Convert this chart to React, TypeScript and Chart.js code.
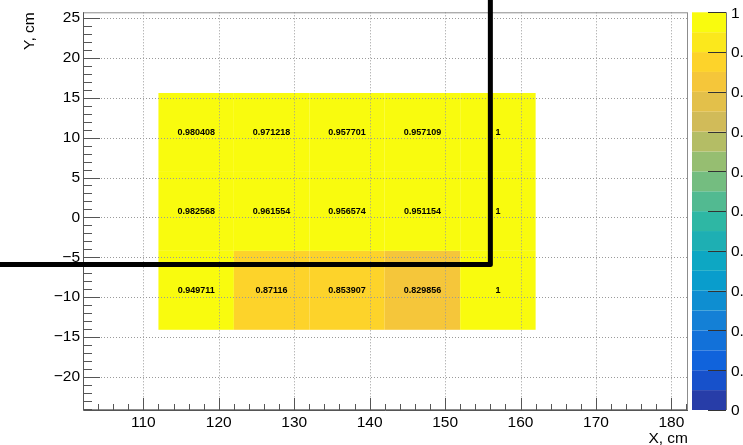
import React, { useEffect, useRef } from "react";
import { Chart, registerables } from "chart.js";

Chart.register(...registerables);

// ---- data ----
const xEdges = [112, 122, 132, 142, 152, 162];
const yEdges = [-14.1, -4.2, 5.7, 15.6];
// rows from bottom to top
const rowBottom = [0.949711, 0.87116, 0.853907, 0.829856, 1];
const rowMiddle = [0.982568, 0.961554, 0.956574, 0.951154, 1];
const rowTop = [0.980408, 0.971218, 0.957701, 0.957109, 1];
const cellValues = [rowBottom, rowMiddle, rowTop];

const xTicks = [110, 120, 130, 140, 150, 160, 170, 180];
const yTicks = [-20, -15, -10, -5, 0, 5, 10, 15, 20, 25];
const zTicks = [0, 0.1, 0.2, 0.3, 0.4, 0.5, 0.6, 0.7, 0.8, 0.9, 1];
const zTickLabels = ["0", "0.1", "0.2", "0.3", "0.4", "0.5", "0.6", "0.7", "0.8", "0.9", "1"];
const zLevels = 20;
const zMin = 0;
const zMax = 1;

// overlay cut lines (data coordinates)
const cutX = 156.0;
const cutY = -5.9;

const xTitle = "X, cm";
const yTitle = "Y, cm";

// ---- kBird palette ----
const stops = [0, 0.125, 0.25, 0.375, 0.5, 0.625, 0.75, 0.875, 1];
const red = [0.2082, 0.0592, 0.078, 0.0232, 0.1802, 0.5301, 0.8186, 0.9956, 0.9764];
const green = [0.1664, 0.3599, 0.5041, 0.6419, 0.7178, 0.7492, 0.7328, 0.7862, 0.9832];
const blue = [0.5293, 0.8684, 0.8385, 0.7914, 0.6425, 0.4662, 0.3499, 0.1968, 0.0539];

function paletteAt(t: number): string {
  let i = 0;
  while (i < stops.length - 2 && t > stops[i + 1]) i++;
  const f = (t - stops[i]) / (stops[i + 1] - stops[i]);
  const r = Math.round(255 * (red[i] + (red[i + 1] - red[i]) * f));
  const g = Math.round(255 * (green[i] + (green[i + 1] - green[i]) * f));
  const b = Math.round(255 * (blue[i] + (blue[i + 1] - blue[i]) * f));
  return `rgb(${r},${g},${b})`;
}

function levelColor(level: number): string {
  const idx = Math.floor((level + 0.99) * 255 / zLevels);
  return paletteAt(Math.min(idx, 254) / 254);
}

function valueColor(z: number): string {
  let level = Math.floor(0.01 + (z - zMin) * zLevels / (zMax - zMin));
  if (level >= zLevels) level = zLevels - 1;
  if (level < 0) level = 0;
  return levelColor(level);
}

const FONT = "'Liberation Sans', Arial, Helvetica, sans-serif";

function fmt(v: number): string {
  return v < 0 ? "\u2212" + String(-v) : String(v);
}

const heatPlugin = {
  id: "heat",
  afterDraw(chart: any) {
    const ctx = chart.ctx as CanvasRenderingContext2D;
    const xs = chart.scales.x;
    const ys = chart.scales.y;
    const ca = chart.chartArea;
    ctx.save();

    // cells
    for (let r = 0; r < cellValues.length; r++) {
      for (let c = 0; c < cellValues[r].length; c++) {
        const x0 = xs.getPixelForValue(xEdges[c]);
        const x1 = xs.getPixelForValue(xEdges[c + 1]);
        const y0 = ys.getPixelForValue(yEdges[r + 1]);
        const y1 = ys.getPixelForValue(yEdges[r]);
        ctx.fillStyle = valueColor(cellValues[r][c]);
        ctx.fillRect(x0, y0, x1 - x0, y1 - y0);
      }
    }

    // grid (dotted, on top of cells)
    ctx.strokeStyle = "#9a9a9a";
    ctx.lineWidth = 1;
    ctx.setLineDash([1, 2]);
    for (const v of xTicks) {
      const px = Math.round(xs.getPixelForValue(v)) + 0.5;
      ctx.beginPath();
      ctx.moveTo(px, ca.top);
      ctx.lineTo(px, ca.bottom);
      ctx.stroke();
    }
    for (const v of yTicks) {
      const py = Math.round(ys.getPixelForValue(v)) + 0.5;
      ctx.beginPath();
      ctx.moveTo(ca.left, py);
      ctx.lineTo(ca.right, py);
      ctx.stroke();
    }
    ctx.setLineDash([]);

    // frame
    ctx.strokeStyle = "#8c8c8c";
    ctx.strokeRect(ca.left + 0.5, ca.top + 0.5, ca.right - ca.left - 1, ca.bottom - ca.top - 1);
    ctx.strokeStyle = "#555";
    ctx.beginPath();
    ctx.moveTo(ca.left + 0.5, ca.top);
    ctx.lineTo(ca.left + 0.5, ca.bottom + 0.5);
    ctx.lineTo(ca.right, ca.bottom + 0.5);
    ctx.stroke();

    // inward ticks
    ctx.strokeStyle = "#555";
    ctx.lineWidth = 1;
    const xMin = Math.ceil(xs.min);
    for (let v = xMin + (xMin % 2 === 0 ? 0 : 1); v <= xs.max; v += 2) {
      const px = Math.round(xs.getPixelForValue(v)) + 0.5;
      const major = xTicks.includes(v);
      ctx.beginPath();
      ctx.moveTo(px, ca.bottom);
      ctx.lineTo(px, ca.bottom - (major ? 12 : 6));
      ctx.stroke();
    }
    for (let v = Math.ceil(ys.min); v <= ys.max; v += 1) {
      const py = Math.round(ys.getPixelForValue(v)) + 0.5;
      const major = yTicks.includes(v);
      ctx.beginPath();
      ctx.moveTo(ca.left, py);
      ctx.lineTo(ca.left + (major ? 17 : 9), py);
      ctx.stroke();
    }

    // cell texts
    ctx.fillStyle = "#000";
    ctx.font = `bold 9px ${FONT}`;
    ctx.textAlign = "center";
    ctx.textBaseline = "middle";
    for (let r = 0; r < cellValues.length; r++) {
      for (let c = 0; c < cellValues[r].length; c++) {
        const cx = xs.getPixelForValue((xEdges[c] + xEdges[c + 1]) / 2);
        const cy = ys.getPixelForValue((yEdges[r] + yEdges[r + 1]) / 2);
        ctx.fillText(String(cellValues[r][c]), cx, cy);
      }
    }

    // colour bar
    const bx0 = ca.right + 4;
    const bx1 = ca.right + 38;
    const zPix = (z: number) => ca.bottom - ((z - zMin) / (zMax - zMin)) * (ca.bottom - ca.top);
    for (let l = 0; l < zLevels; l++) {
      const za = zMin + (l * (zMax - zMin)) / zLevels;
      const zb = zMin + ((l + 1) * (zMax - zMin)) / zLevels;
      const ya = zPix(za);
      const yb = zPix(zb);
      ctx.fillStyle = levelColor(l);
      ctx.fillRect(bx0, yb, bx1 - bx0, ya - yb);
    }
    ctx.strokeStyle = "#777";
    ctx.beginPath();
    ctx.moveTo(bx1 + 0.5, ca.top);
    ctx.lineTo(bx1 + 0.5, ca.bottom);
    ctx.stroke();
    ctx.strokeStyle = "#333";
    ctx.font = `15.5px ${FONT}`;
    ctx.textAlign = "left";
    ctx.textBaseline = "middle";
    ctx.fillStyle = "#000";
    zTicks.forEach((z, i) => {
      const py = Math.round(zPix(z)) + 0.5;
      ctx.beginPath();
      ctx.moveTo(bx1, py);
      ctx.lineTo(bx1 - 18, py);
      ctx.stroke();
      ctx.fillText(zTickLabels[i], bx1 + 5, zPix(z) + 1);
    });

    // axis titles
    ctx.font = `15.5px ${FONT}`;
    ctx.fillStyle = "#000";
    ctx.textAlign = "right";
    ctx.textBaseline = "alphabetic";
    ctx.fillText(xTitle, ca.right, 443);
    ctx.save();
    ctx.translate(34, ca.top);
    ctx.rotate(-Math.PI / 2);
    ctx.textAlign = "right";
    ctx.fillText(yTitle, 0, 0);
    ctx.restore();

    // overlay cut lines
    const cx = xs.getPixelForValue(cutX);
    const cy = ys.getPixelForValue(cutY);
    ctx.strokeStyle = "#000";
    ctx.lineWidth = 5;
    ctx.lineJoin = "round";
    ctx.beginPath();
    ctx.moveTo(0, cy);
    ctx.lineTo(cx, cy);
    ctx.lineTo(cx, 0);
    ctx.stroke();

    ctx.restore();
  },
};

export default function App() {
  const ref = useRef<HTMLCanvasElement | null>(null);
  useEffect(() => {
    document.body.style.margin = "0";
    if (!ref.current) return;
    const chart = new Chart(ref.current, {
      type: "scatter",
      data: { datasets: [{ data: [], pointRadius: 0 }] },
      options: {
        animation: false,
        responsive: false,
        devicePixelRatio: 1,
        layout: { padding: { top: 11, right: 55, left: 0, bottom: 0 } },
        plugins: { legend: { display: false }, tooltip: { enabled: false } },
        scales: {
          x: {
            type: "linear",
            min: 102,
            max: 182.2,
            grid: { display: false, drawTicks: false },
            border: { display: false },
            afterBuildTicks: (s: any) => {
              s.ticks = xTicks.map((v) => ({ value: v }));
            },
            afterFit: (s: any) => {
              s.height = 35;
            },
            ticks: {
              padding: 3,
              maxRotation: 0,
              autoSkip: false,
              color: "#000",
              font: { family: FONT, size: 15.5 },
              callback: (v: any) => fmt(Number(v)),
            },
          },
          y: {
            type: "linear",
            min: -24.16,
            max: 25.72,
            grid: { display: false, drawTicks: false },
            border: { display: false },
            afterBuildTicks: (s: any) => {
              s.ticks = yTicks.map((v) => ({ value: v }));
            },
            afterFit: (s: any) => {
              s.width = 83;
            },
            ticks: {
              padding: 3,
              autoSkip: false,
              color: "#000",
              font: { family: FONT, size: 15.5 },
              callback: (v: any) => fmt(Number(v)),
            },
          },
        },
      },
      plugins: [heatPlugin],
    });
    return () => chart.destroy();
  }, []);
  return (
    <div style={{ width: 743, height: 445, background: "#fff" }}>
      <canvas ref={ref} width={743} height={445} style={{ display: "block" }} />
    </div>
  );
}
